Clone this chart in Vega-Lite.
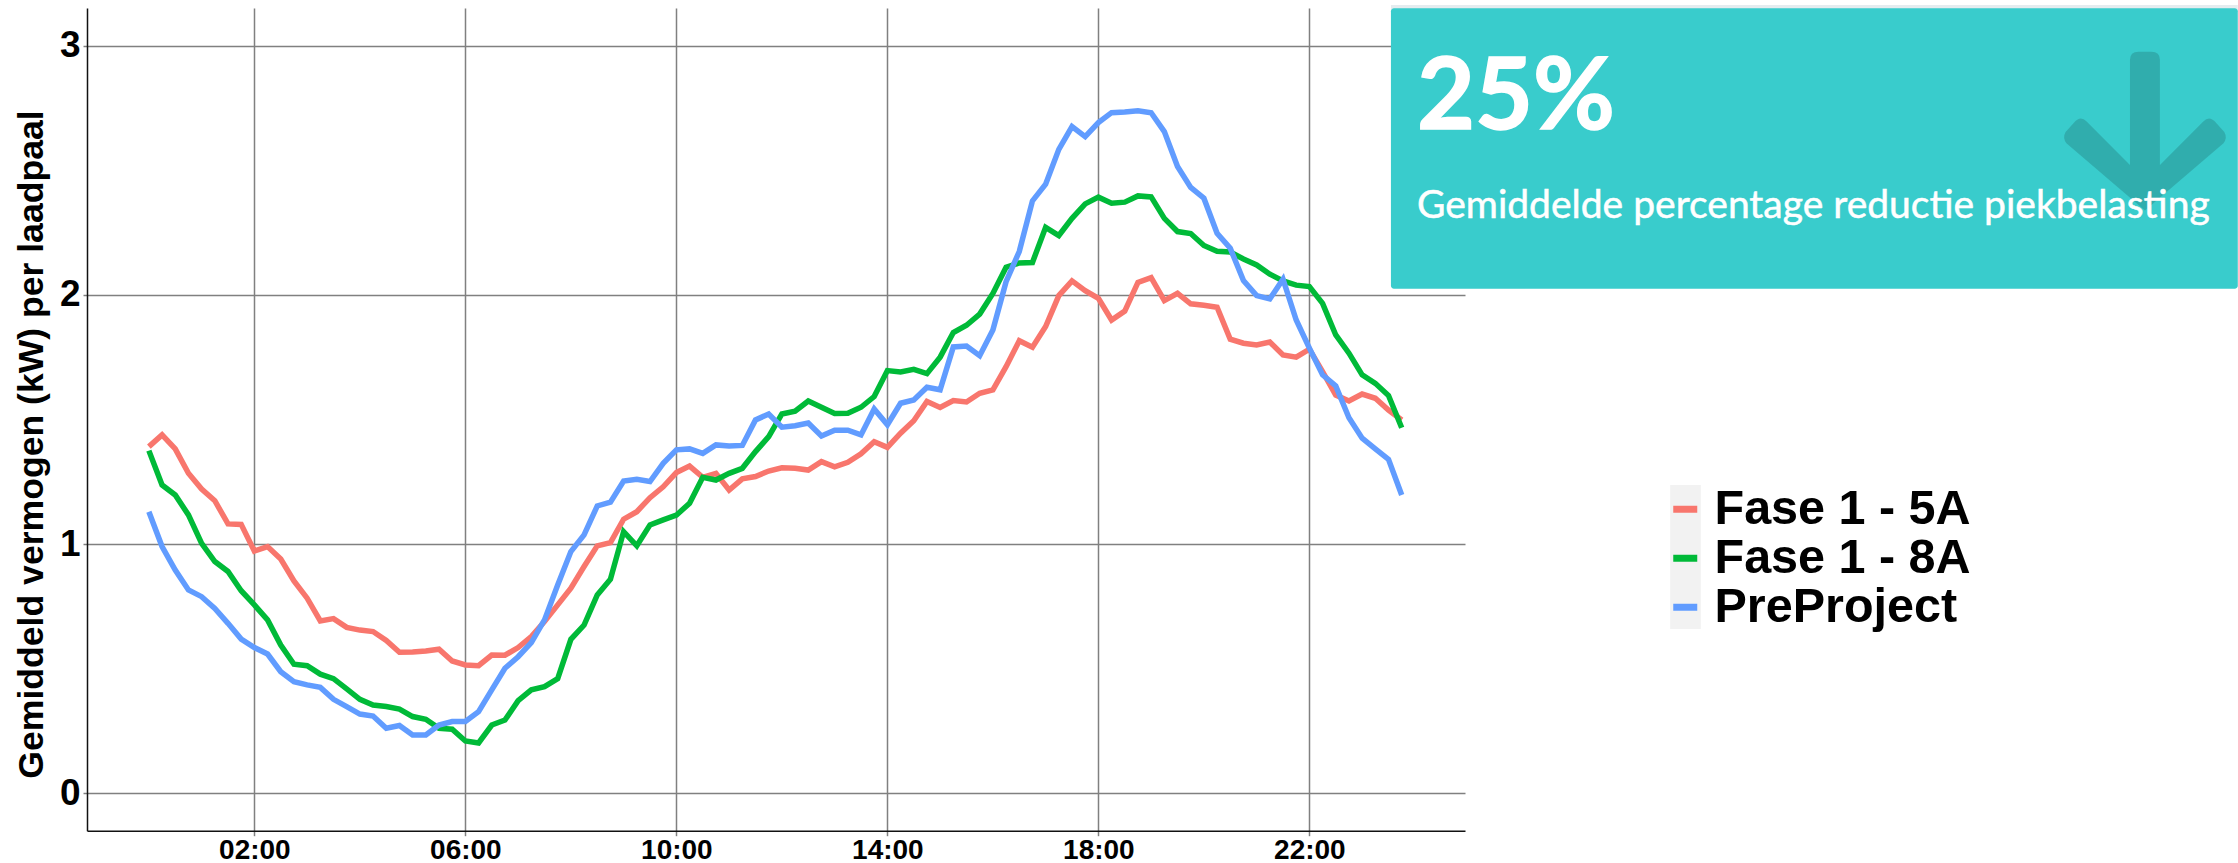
{"$schema":"https://vega.github.io/schema/vega-lite/v6.json","width":1378,"height":822.7,"autosize":{"type":"none"},"padding":{"left":87,"top":8,"right":773,"bottom":32.3},"background":"white","config":{"view":{"stroke":null},"font":"Liberation Sans"},
"datasets":{"kaart":[{"cijfer":"25%","tekst":"Gemiddelde percentage reductie piekbelasting"}],
"reeksen":[
{"uur":0,"serie":"Fase 1 - 5A","kW":1.391},{"uur":0.25,"serie":"Fase 1 - 5A","kW":1.438},{"uur":0.5,"serie":"Fase 1 - 5A","kW":1.382},{"uur":0.75,"serie":"Fase 1 - 5A","kW":1.284},{"uur":1,"serie":"Fase 1 - 5A","kW":1.221},{"uur":1.25,"serie":"Fase 1 - 5A","kW":1.174},{"uur":1.5,"serie":"Fase 1 - 5A","kW":1.081},{"uur":1.75,"serie":"Fase 1 - 5A","kW":1.079},{"uur":2,"serie":"Fase 1 - 5A","kW":0.972},{"uur":2.25,"serie":"Fase 1 - 5A","kW":0.99},{"uur":2.5,"serie":"Fase 1 - 5A","kW":0.94},{"uur":2.75,"serie":"Fase 1 - 5A","kW":0.852},{"uur":3,"serie":"Fase 1 - 5A","kW":0.783},{"uur":3.25,"serie":"Fase 1 - 5A","kW":0.692},{"uur":3.5,"serie":"Fase 1 - 5A","kW":0.701},{"uur":3.75,"serie":"Fase 1 - 5A","kW":0.666},{"uur":4,"serie":"Fase 1 - 5A","kW":0.655},{"uur":4.25,"serie":"Fase 1 - 5A","kW":0.649},{"uur":4.5,"serie":"Fase 1 - 5A","kW":0.613},{"uur":4.75,"serie":"Fase 1 - 5A","kW":0.566},{"uur":5,"serie":"Fase 1 - 5A","kW":0.567},{"uur":5.25,"serie":"Fase 1 - 5A","kW":0.571},{"uur":5.5,"serie":"Fase 1 - 5A","kW":0.578},{"uur":5.75,"serie":"Fase 1 - 5A","kW":0.531},{"uur":6,"serie":"Fase 1 - 5A","kW":0.515},{"uur":6.25,"serie":"Fase 1 - 5A","kW":0.512},{"uur":6.5,"serie":"Fase 1 - 5A","kW":0.555},{"uur":6.75,"serie":"Fase 1 - 5A","kW":0.554},{"uur":7,"serie":"Fase 1 - 5A","kW":0.585},{"uur":7.25,"serie":"Fase 1 - 5A","kW":0.629},{"uur":7.5,"serie":"Fase 1 - 5A","kW":0.689},{"uur":7.75,"serie":"Fase 1 - 5A","kW":0.756},{"uur":8,"serie":"Fase 1 - 5A","kW":0.823},{"uur":8.25,"serie":"Fase 1 - 5A","kW":0.91},{"uur":8.5,"serie":"Fase 1 - 5A","kW":0.993},{"uur":8.75,"serie":"Fase 1 - 5A","kW":1.006},{"uur":9,"serie":"Fase 1 - 5A","kW":1.1},{"uur":9.25,"serie":"Fase 1 - 5A","kW":1.13},{"uur":9.5,"serie":"Fase 1 - 5A","kW":1.186},{"uur":9.75,"serie":"Fase 1 - 5A","kW":1.23},{"uur":10,"serie":"Fase 1 - 5A","kW":1.287},{"uur":10.25,"serie":"Fase 1 - 5A","kW":1.313},{"uur":10.5,"serie":"Fase 1 - 5A","kW":1.268},{"uur":10.75,"serie":"Fase 1 - 5A","kW":1.284},{"uur":11,"serie":"Fase 1 - 5A","kW":1.217},{"uur":11.25,"serie":"Fase 1 - 5A","kW":1.262},{"uur":11.5,"serie":"Fase 1 - 5A","kW":1.271},{"uur":11.75,"serie":"Fase 1 - 5A","kW":1.293},{"uur":12,"serie":"Fase 1 - 5A","kW":1.306},{"uur":12.25,"serie":"Fase 1 - 5A","kW":1.304},{"uur":12.5,"serie":"Fase 1 - 5A","kW":1.297},{"uur":12.75,"serie":"Fase 1 - 5A","kW":1.331},{"uur":13,"serie":"Fase 1 - 5A","kW":1.31},{"uur":13.25,"serie":"Fase 1 - 5A","kW":1.328},{"uur":13.5,"serie":"Fase 1 - 5A","kW":1.362},{"uur":13.75,"serie":"Fase 1 - 5A","kW":1.411},{"uur":14,"serie":"Fase 1 - 5A","kW":1.388},{"uur":14.25,"serie":"Fase 1 - 5A","kW":1.445},{"uur":14.5,"serie":"Fase 1 - 5A","kW":1.495},{"uur":14.75,"serie":"Fase 1 - 5A","kW":1.572},{"uur":15,"serie":"Fase 1 - 5A","kW":1.548},{"uur":15.25,"serie":"Fase 1 - 5A","kW":1.576},{"uur":15.5,"serie":"Fase 1 - 5A","kW":1.57},{"uur":15.75,"serie":"Fase 1 - 5A","kW":1.605},{"uur":16,"serie":"Fase 1 - 5A","kW":1.619},{"uur":16.25,"serie":"Fase 1 - 5A","kW":1.712},{"uur":16.5,"serie":"Fase 1 - 5A","kW":1.816},{"uur":16.75,"serie":"Fase 1 - 5A","kW":1.79},{"uur":17,"serie":"Fase 1 - 5A","kW":1.873},{"uur":17.25,"serie":"Fase 1 - 5A","kW":1.997},{"uur":17.5,"serie":"Fase 1 - 5A","kW":2.056},{"uur":17.75,"serie":"Fase 1 - 5A","kW":2.017},{"uur":18,"serie":"Fase 1 - 5A","kW":1.986},{"uur":18.25,"serie":"Fase 1 - 5A","kW":1.899},{"uur":18.5,"serie":"Fase 1 - 5A","kW":1.935},{"uur":18.75,"serie":"Fase 1 - 5A","kW":2.05},{"uur":19,"serie":"Fase 1 - 5A","kW":2.069},{"uur":19.25,"serie":"Fase 1 - 5A","kW":1.977},{"uur":19.5,"serie":"Fase 1 - 5A","kW":2.006},{"uur":19.75,"serie":"Fase 1 - 5A","kW":1.964},{"uur":20,"serie":"Fase 1 - 5A","kW":1.958},{"uur":20.25,"serie":"Fase 1 - 5A","kW":1.95},{"uur":20.5,"serie":"Fase 1 - 5A","kW":1.822},{"uur":20.75,"serie":"Fase 1 - 5A","kW":1.806},{"uur":21,"serie":"Fase 1 - 5A","kW":1.799},{"uur":21.25,"serie":"Fase 1 - 5A","kW":1.811},{"uur":21.5,"serie":"Fase 1 - 5A","kW":1.759},{"uur":21.75,"serie":"Fase 1 - 5A","kW":1.75},{"uur":22,"serie":"Fase 1 - 5A","kW":1.782},{"uur":22.25,"serie":"Fase 1 - 5A","kW":1.692},{"uur":22.5,"serie":"Fase 1 - 5A","kW":1.598},{"uur":22.75,"serie":"Fase 1 - 5A","kW":1.574},{"uur":23,"serie":"Fase 1 - 5A","kW":1.602},{"uur":23.25,"serie":"Fase 1 - 5A","kW":1.585},{"uur":23.5,"serie":"Fase 1 - 5A","kW":1.538},{"uur":23.75,"serie":"Fase 1 - 5A","kW":1.498},
{"uur":0,"serie":"Fase 1 - 8A","kW":1.375},{"uur":0.25,"serie":"Fase 1 - 8A","kW":1.237},{"uur":0.5,"serie":"Fase 1 - 8A","kW":1.197},{"uur":0.75,"serie":"Fase 1 - 8A","kW":1.117},{"uur":1,"serie":"Fase 1 - 8A","kW":1.003},{"uur":1.25,"serie":"Fase 1 - 8A","kW":0.93},{"uur":1.5,"serie":"Fase 1 - 8A","kW":0.89},{"uur":1.75,"serie":"Fase 1 - 8A","kW":0.813},{"uur":2,"serie":"Fase 1 - 8A","kW":0.756},{"uur":2.25,"serie":"Fase 1 - 8A","kW":0.696},{"uur":2.5,"serie":"Fase 1 - 8A","kW":0.595},{"uur":2.75,"serie":"Fase 1 - 8A","kW":0.518},{"uur":3,"serie":"Fase 1 - 8A","kW":0.512},{"uur":3.25,"serie":"Fase 1 - 8A","kW":0.478},{"uur":3.5,"serie":"Fase 1 - 8A","kW":0.46},{"uur":3.75,"serie":"Fase 1 - 8A","kW":0.419},{"uur":4,"serie":"Fase 1 - 8A","kW":0.377},{"uur":4.25,"serie":"Fase 1 - 8A","kW":0.354},{"uur":4.5,"serie":"Fase 1 - 8A","kW":0.348},{"uur":4.75,"serie":"Fase 1 - 8A","kW":0.338},{"uur":5,"serie":"Fase 1 - 8A","kW":0.308},{"uur":5.25,"serie":"Fase 1 - 8A","kW":0.297},{"uur":5.5,"serie":"Fase 1 - 8A","kW":0.261},{"uur":5.75,"serie":"Fase 1 - 8A","kW":0.257},{"uur":6,"serie":"Fase 1 - 8A","kW":0.21},{"uur":6.25,"serie":"Fase 1 - 8A","kW":0.202},{"uur":6.5,"serie":"Fase 1 - 8A","kW":0.274},{"uur":6.75,"serie":"Fase 1 - 8A","kW":0.294},{"uur":7,"serie":"Fase 1 - 8A","kW":0.372},{"uur":7.25,"serie":"Fase 1 - 8A","kW":0.415},{"uur":7.5,"serie":"Fase 1 - 8A","kW":0.428},{"uur":7.75,"serie":"Fase 1 - 8A","kW":0.46},{"uur":8,"serie":"Fase 1 - 8A","kW":0.618},{"uur":8.25,"serie":"Fase 1 - 8A","kW":0.675},{"uur":8.5,"serie":"Fase 1 - 8A","kW":0.796},{"uur":8.75,"serie":"Fase 1 - 8A","kW":0.859},{"uur":9,"serie":"Fase 1 - 8A","kW":1.05},{"uur":9.25,"serie":"Fase 1 - 8A","kW":0.993},{"uur":9.5,"serie":"Fase 1 - 8A","kW":1.077},{"uur":9.75,"serie":"Fase 1 - 8A","kW":1.097},{"uur":10,"serie":"Fase 1 - 8A","kW":1.116},{"uur":10.25,"serie":"Fase 1 - 8A","kW":1.164},{"uur":10.5,"serie":"Fase 1 - 8A","kW":1.268},{"uur":10.75,"serie":"Fase 1 - 8A","kW":1.257},{"uur":11,"serie":"Fase 1 - 8A","kW":1.284},{"uur":11.25,"serie":"Fase 1 - 8A","kW":1.304},{"uur":11.5,"serie":"Fase 1 - 8A","kW":1.371},{"uur":11.75,"serie":"Fase 1 - 8A","kW":1.431},{"uur":12,"serie":"Fase 1 - 8A","kW":1.522},{"uur":12.25,"serie":"Fase 1 - 8A","kW":1.533},{"uur":12.5,"serie":"Fase 1 - 8A","kW":1.574},{"uur":12.75,"serie":"Fase 1 - 8A","kW":1.549},{"uur":13,"serie":"Fase 1 - 8A","kW":1.524},{"uur":13.25,"serie":"Fase 1 - 8A","kW":1.525},{"uur":13.5,"serie":"Fase 1 - 8A","kW":1.549},{"uur":13.75,"serie":"Fase 1 - 8A","kW":1.592},{"uur":14,"serie":"Fase 1 - 8A","kW":1.696},{"uur":14.25,"serie":"Fase 1 - 8A","kW":1.691},{"uur":14.5,"serie":"Fase 1 - 8A","kW":1.701},{"uur":14.75,"serie":"Fase 1 - 8A","kW":1.684},{"uur":15,"serie":"Fase 1 - 8A","kW":1.75},{"uur":15.25,"serie":"Fase 1 - 8A","kW":1.849},{"uur":15.5,"serie":"Fase 1 - 8A","kW":1.878},{"uur":15.75,"serie":"Fase 1 - 8A","kW":1.923},{"uur":16,"serie":"Fase 1 - 8A","kW":2.006},{"uur":16.25,"serie":"Fase 1 - 8A","kW":2.111},{"uur":16.5,"serie":"Fase 1 - 8A","kW":2.128},{"uur":16.75,"serie":"Fase 1 - 8A","kW":2.13},{"uur":17,"serie":"Fase 1 - 8A","kW":2.271},{"uur":17.25,"serie":"Fase 1 - 8A","kW":2.238},{"uur":17.5,"serie":"Fase 1 - 8A","kW":2.307},{"uur":17.75,"serie":"Fase 1 - 8A","kW":2.365},{"uur":18,"serie":"Fase 1 - 8A","kW":2.392},{"uur":18.25,"serie":"Fase 1 - 8A","kW":2.368},{"uur":18.5,"serie":"Fase 1 - 8A","kW":2.372},{"uur":18.75,"serie":"Fase 1 - 8A","kW":2.397},{"uur":19,"serie":"Fase 1 - 8A","kW":2.393},{"uur":19.25,"serie":"Fase 1 - 8A","kW":2.307},{"uur":19.5,"serie":"Fase 1 - 8A","kW":2.254},{"uur":19.75,"serie":"Fase 1 - 8A","kW":2.246},{"uur":20,"serie":"Fase 1 - 8A","kW":2.198},{"uur":20.25,"serie":"Fase 1 - 8A","kW":2.175},{"uur":20.5,"serie":"Fase 1 - 8A","kW":2.172},{"uur":20.75,"serie":"Fase 1 - 8A","kW":2.144},{"uur":21,"serie":"Fase 1 - 8A","kW":2.12},{"uur":21.25,"serie":"Fase 1 - 8A","kW":2.083},{"uur":21.5,"serie":"Fase 1 - 8A","kW":2.056},{"uur":21.75,"serie":"Fase 1 - 8A","kW":2.039},{"uur":22,"serie":"Fase 1 - 8A","kW":2.033},{"uur":22.25,"serie":"Fase 1 - 8A","kW":1.966},{"uur":22.5,"serie":"Fase 1 - 8A","kW":1.839},{"uur":22.75,"serie":"Fase 1 - 8A","kW":1.766},{"uur":23,"serie":"Fase 1 - 8A","kW":1.679},{"uur":23.25,"serie":"Fase 1 - 8A","kW":1.645},{"uur":23.5,"serie":"Fase 1 - 8A","kW":1.596},{"uur":23.75,"serie":"Fase 1 - 8A","kW":1.467},
{"uur":0,"serie":"PreProject","kW":1.13},{"uur":0.25,"serie":"PreProject","kW":0.99},{"uur":0.5,"serie":"PreProject","kW":0.896},{"uur":0.75,"serie":"PreProject","kW":0.816},{"uur":1,"serie":"PreProject","kW":0.789},{"uur":1.25,"serie":"PreProject","kW":0.742},{"uur":1.5,"serie":"PreProject","kW":0.682},{"uur":1.75,"serie":"PreProject","kW":0.619},{"uur":2,"serie":"PreProject","kW":0.585},{"uur":2.25,"serie":"PreProject","kW":0.559},{"uur":2.5,"serie":"PreProject","kW":0.488},{"uur":2.75,"serie":"PreProject","kW":0.448},{"uur":3,"serie":"PreProject","kW":0.435},{"uur":3.25,"serie":"PreProject","kW":0.425},{"uur":3.5,"serie":"PreProject","kW":0.377},{"uur":3.75,"serie":"PreProject","kW":0.348},{"uur":4,"serie":"PreProject","kW":0.318},{"uur":4.25,"serie":"PreProject","kW":0.31},{"uur":4.5,"serie":"PreProject","kW":0.261},{"uur":4.75,"serie":"PreProject","kW":0.272},{"uur":5,"serie":"PreProject","kW":0.234},{"uur":5.25,"serie":"PreProject","kW":0.234},{"uur":5.5,"serie":"PreProject","kW":0.274},{"uur":5.75,"serie":"PreProject","kW":0.288},{"uur":6,"serie":"PreProject","kW":0.288},{"uur":6.25,"serie":"PreProject","kW":0.328},{"uur":6.5,"serie":"PreProject","kW":0.415},{"uur":6.75,"serie":"PreProject","kW":0.502},{"uur":7,"serie":"PreProject","kW":0.548},{"uur":7.25,"serie":"PreProject","kW":0.605},{"uur":7.5,"serie":"PreProject","kW":0.696},{"uur":7.75,"serie":"PreProject","kW":0.836},{"uur":8,"serie":"PreProject","kW":0.97},{"uur":8.25,"serie":"PreProject","kW":1.037},{"uur":8.5,"serie":"PreProject","kW":1.153},{"uur":8.75,"serie":"PreProject","kW":1.168},{"uur":9,"serie":"PreProject","kW":1.253},{"uur":9.25,"serie":"PreProject","kW":1.26},{"uur":9.5,"serie":"PreProject","kW":1.251},{"uur":9.75,"serie":"PreProject","kW":1.324},{"uur":10,"serie":"PreProject","kW":1.378},{"uur":10.25,"serie":"PreProject","kW":1.382},{"uur":10.5,"serie":"PreProject","kW":1.364},{"uur":10.75,"serie":"PreProject","kW":1.398},{"uur":11,"serie":"PreProject","kW":1.394},{"uur":11.25,"serie":"PreProject","kW":1.396},{"uur":11.5,"serie":"PreProject","kW":1.498},{"uur":11.75,"serie":"PreProject","kW":1.522},{"uur":12,"serie":"PreProject","kW":1.469},{"uur":12.25,"serie":"PreProject","kW":1.475},{"uur":12.5,"serie":"PreProject","kW":1.486},{"uur":12.75,"serie":"PreProject","kW":1.434},{"uur":13,"serie":"PreProject","kW":1.457},{"uur":13.25,"serie":"PreProject","kW":1.457},{"uur":13.5,"serie":"PreProject","kW":1.438},{"uur":13.75,"serie":"PreProject","kW":1.542},{"uur":14,"serie":"PreProject","kW":1.479},{"uur":14.25,"serie":"PreProject","kW":1.565},{"uur":14.5,"serie":"PreProject","kW":1.578},{"uur":14.75,"serie":"PreProject","kW":1.629},{"uur":15,"serie":"PreProject","kW":1.619},{"uur":15.25,"serie":"PreProject","kW":1.791},{"uur":15.5,"serie":"PreProject","kW":1.795},{"uur":15.75,"serie":"PreProject","kW":1.756},{"uur":16,"serie":"PreProject","kW":1.859},{"uur":16.25,"serie":"PreProject","kW":2.053},{"uur":16.5,"serie":"PreProject","kW":2.174},{"uur":16.75,"serie":"PreProject","kW":2.377},{"uur":17,"serie":"PreProject","kW":2.444},{"uur":17.25,"serie":"PreProject","kW":2.584},{"uur":17.5,"serie":"PreProject","kW":2.675},{"uur":17.75,"serie":"PreProject","kW":2.635},{"uur":18,"serie":"PreProject","kW":2.691},{"uur":18.25,"serie":"PreProject","kW":2.731},{"uur":18.5,"serie":"PreProject","kW":2.734},{"uur":18.75,"serie":"PreProject","kW":2.739},{"uur":19,"serie":"PreProject","kW":2.731},{"uur":19.25,"serie":"PreProject","kW":2.655},{"uur":19.5,"serie":"PreProject","kW":2.515},{"uur":19.75,"serie":"PreProject","kW":2.431},{"uur":20,"serie":"PreProject","kW":2.388},{"uur":20.25,"serie":"PreProject","kW":2.247},{"uur":20.5,"serie":"PreProject","kW":2.187},{"uur":20.75,"serie":"PreProject","kW":2.057},{"uur":21,"serie":"PreProject","kW":1.997},{"uur":21.25,"serie":"PreProject","kW":1.984},{"uur":21.5,"serie":"PreProject","kW":2.063},{"uur":21.75,"serie":"PreProject","kW":1.899},{"uur":22,"serie":"PreProject","kW":1.786},{"uur":22.25,"serie":"PreProject","kW":1.679},{"uur":22.5,"serie":"PreProject","kW":1.635},{"uur":22.75,"serie":"PreProject","kW":1.507},{"uur":23,"serie":"PreProject","kW":1.425},{"uur":23.25,"serie":"PreProject","kW":1.382},{"uur":23.5,"serie":"PreProject","kW":1.34},{"uur":23.75,"serie":"PreProject","kW":1.197}
]},
"data":{"name":"reeksen"},
"layer":[
{"mark":{"type":"rect","fill":"#f2f2f2"},"data":{"name":"kaart"},"encoding":{"x":{"datum":28.84,"type":"quantitative","scale":{"domain":[-1.173,24.95],"nice":false,"zero":false}},"x2":{"datum":29.42},"y":{"datum":1.237,"type":"quantitative"},"y2":{"datum":0.659}}},
{"mark":{"type":"line","strokeWidth":5.5,"strokeJoin":"miter","strokeMiterLimit":4},
"encoding":{
"x":{"field":"uur","type":"quantitative","scale":{"domain":[-1.173,24.95],"nice":false,"zero":false},
"axis":{"title":null,"values":[2,6,10,14,18,22],"labelExpr":"(datum.value<10?'0':'')+datum.value+':00'","grid":true,"gridColor":"#808080","gridWidth":1.5,"gridOpacity":1,"domain":true,"domainColor":"#111111","domainWidth":1.5,"ticks":true,"tickColor":"#808080","tickWidth":1.5,"tickSize":5,"labelFont":"Liberation Sans","labelFontWeight":"bold","labelFontSize":28,"labelColor":"#000000","labelPadding":1,"labelFlush":false,"labelOverlap":false}},
"y":{"field":"kW","type":"quantitative","scale":{"domain":[-0.15,3.151],"nice":false,"zero":false},
"axis":{"title":"Gemiddeld vermogen (kW) per laadpaal","titleFont":"Liberation Sans","titleFontWeight":"bold","titleFontSize":35.6,"titleColor":"#000000","titleX":-38,"titleY":436,"values":[0,1,2,3],"format":"d","grid":true,"gridColor":"#808080","gridWidth":1.5,"gridOpacity":1,"domain":true,"domainColor":"#111111","domainWidth":1.5,"ticks":true,"tickColor":"#808080","tickWidth":1.5,"tickSize":4,"labelFont":"Liberation Sans","labelFontWeight":"bold","labelFontSize":37,"labelColor":"#000000","labelPadding":3,"labelFlush":false,"labelOverlap":false}},
"color":{"field":"serie","type":"nominal","scale":{"domain":["Fase 1 - 5A","Fase 1 - 8A","PreProject"],"range":["#F8766D","#00BA38","#619CFF"]},
"legend":{"title":null,"orient":"none","legendX":1574,"legendY":477,"symbolType":"stroke","symbolSize":576,"symbolStrokeWidth":7,"labelFont":"Liberation Sans","labelFontWeight":"bold","labelFontSize":48.5,"labelColor":"#000000","labelOffset":5,"labelLimit":400,"rowPadding":0,"padding":0}}}},
{"mark":{"type":"rect","fill":"#e4ecef"},"data":{"name":"kaart"},"encoding":{"x":{"datum":23.546},"x2":{"datum":39.6},"y":{"datum":3.163},"y2":{"datum":3.14}}},
{"mark":{"type":"rect","fill":"#39CCCC","cornerRadius":3},"data":{"name":"kaart"},"encoding":{"x":{"datum":23.546},"x2":{"datum":39.6},"y":{"datum":3.15},"y2":{"datum":2.025}}},
{"mark":{"type":"point","filled":true,"fill":"#000000","fillOpacity":0.15,"strokeWidth":0,"opacity":1,"size":26244,"shape":"M-0.185,-0.84 Q-0.185,-0.94 -0.08,-0.94 L0.08,-0.94 Q0.185,-0.94 0.185,-0.84 L0.185,0.457 L0.72,-0.08 Q0.8,-0.16 0.88,-0.06 L0.98,0.05 Q1.02,0.12 0.97,0.19 L0,1.02 L-0.97,0.19 Q-1.02,0.12 -0.98,0.05 L-0.88,-0.06 Q-0.8,-0.16 -0.72,-0.08 L-0.185,0.457 Z"},"data":{"name":"kaart"},"encoding":{"x":{"datum":37.84},"y":{"datum":2.67}}},
{"mark":{"type":"text","font":"Lato","fontWeight":"bold","fontSize":100,"fill":"#ffffff","stroke":"#ffffff","strokeWidth":1.5,"align":"left","baseline":"alphabetic"},"data":{"name":"kaart"},"encoding":{"x":{"datum":24.04},"y":{"datum":2.665},"text":{"field":"cijfer"}}},
{"mark":{"type":"text","font":"Lato","fontSize":39,"fill":"#ffffff","stroke":"#ffffff","strokeWidth":0.5,"align":"left","baseline":"alphabetic"},"data":{"name":"kaart"},"encoding":{"x":{"datum":24.04},"y":{"datum":2.308},"text":{"field":"tekst"}}}
]}
